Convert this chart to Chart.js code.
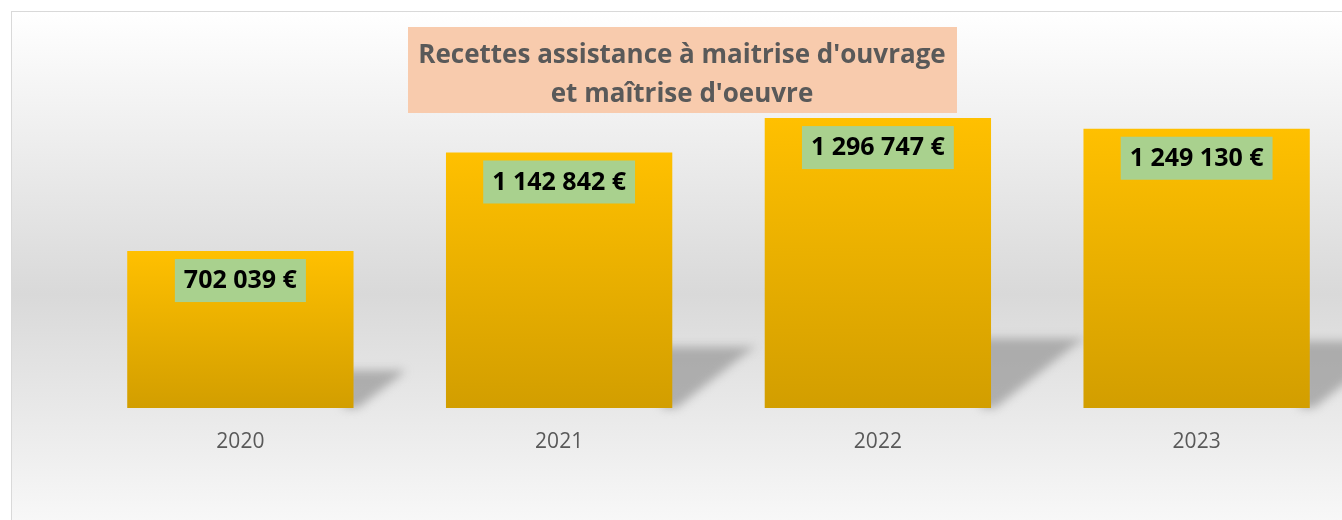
<!DOCTYPE html>
<html>
<head>
<meta charset="utf-8">
<script src="https://cdn.jsdelivr.net/npm/chart.js@4"></script>
<style>
  html, body { margin: 0; padding: 0; overflow: hidden; width: 1342px; height: 520px; background: #fff; }
  #frame {
    position: absolute; left: 11px; top: 11px; width: 1400px; height: 564px;
    border-left: 1px solid #d9d9d9; border-top: 1px solid #d9d9d9;
    background: linear-gradient(to bottom, #ffffff 0%, #d9d9d9 50%, #ffffff 100%);
  }
  #chart { position: absolute; left: 0; top: 0; }
</style>
</head>
<body>
<div id="frame"></div>
<canvas id="chart" width="1380" height="520"></canvas>
<script>
const years = ["2020", "2021", "2022", "2023"];
const recettes = [702039, 1142842, 1296747, 1249130];
const titleLines = ["Recettes assistance à maitrise d'ouvrage", "et maîtrise d'oeuvre"];

function euros(v) {
    return String(v).replace(/\B(?=(\d{3})+(?!\d))/g, " ") + " €";
}

// perspective shadow behind each bar
const shadowPlugin = {
    id: "barShadow",
    beforeDatasetsDraw(chart) {
        const ctx = chart.ctx;
        const meta = chart.getDatasetMeta(0);
        ctx.save();
        ctx.filter = "blur(5px)";
        ctx.fillStyle = "rgba(150,150,150,0.7)";
        meta.data.forEach(bar => {
            const h = bar.base - bar.y;
            const right = bar.x + bar.width / 2;
            const top = bar.base - 0.24 * h;
            ctx.beginPath();
            ctx.moveTo(right - 10, top);
            ctx.lineTo(right + 0.33 * h, top);
            ctx.lineTo(right + 0.29 * h, top + 6);
            ctx.lineTo(right + 4, bar.base);
            ctx.lineTo(right - 10, bar.base);
            ctx.closePath();
            ctx.fill();
        });
        ctx.restore();
    }
};

const labelPlugin = {
    id: "valueBoxes",
    afterDatasetsDraw(chart) {
        const ctx = chart.ctx;
        const meta = chart.getDatasetMeta(0);
        ctx.save();
        ctx.font = "bold 25px 'Open Sans'";
        ctx.textAlign = "center";
        ctx.textBaseline = "middle";
        meta.data.forEach((bar, i) => {
            const txt = euros(recettes[i]);
            const w = ctx.measureText(txt).width + 18;
            const top = bar.y + 8;
            ctx.fillStyle = "#a9d18e";
            ctx.fillRect(bar.x - w / 2, top, w, 43);
            ctx.fillStyle = "#000000";
            ctx.fillText(txt, bar.x, top + 22);
        });
        ctx.restore();
    }
};

const titlePlugin = {
    id: "boxTitle",
    afterDraw(chart) {
        const ctx = chart.ctx;
        ctx.save();
        ctx.fillStyle = "#f8cbad";
        ctx.fillRect(408, 27, 549, 86);
        ctx.fillStyle = "#595959";
        ctx.font = "bold 26px 'Open Sans'";
        ctx.textAlign = "center";
        ctx.textBaseline = "alphabetic";
        ctx.fillText(titleLines[0], 682, 63);
        ctx.fillText(titleLines[1], 682, 102);
        ctx.restore();
    }
};

function barGradient(c) {
    const chart = c.chart;
    if (!chart.chartArea || c.raw === undefined) return "#ffc000";
    const y = chart.scales.y;
    const g = chart.ctx.createLinearGradient(0, y.getPixelForValue(c.raw), 0, y.getPixelForValue(0));
    g.addColorStop(0, "#ffc000");
    g.addColorStop(1, "#d29e00");
    return g;
}

const ctx = document.getElementById("chart").getContext("2d");

new Chart(ctx, {
    type: "bar",
    data: {
        labels: years,
        datasets: [{
            data: recettes,
            backgroundColor: barGradient,
            borderWidth: 0,
            categoryPercentage: 0.71,
            barPercentage: 1
        }]
    },
    options: {
        responsive: false,
        animation: false,
        layout: { padding: { left: 81, right: 24, top: 95, bottom: 0 } },
        plugins: {
            legend: { display: false },
            tooltip: { enabled: false },
            title: { display: false }
        },
        scales: {
            y: { display: false, min: 0, max: 1400000 },
            x: {
                grid: { display: false, drawTicks: false },
                border: { display: false },
                ticks: { color: "#595959", font: { family: "Open Sans", size: 21 }, padding: 21 },
                afterFit: scale => { scale.height = 112; }
            }
        }
    },
    plugins: [shadowPlugin, labelPlugin, titlePlugin]
});
</script>
</body>
</html>
